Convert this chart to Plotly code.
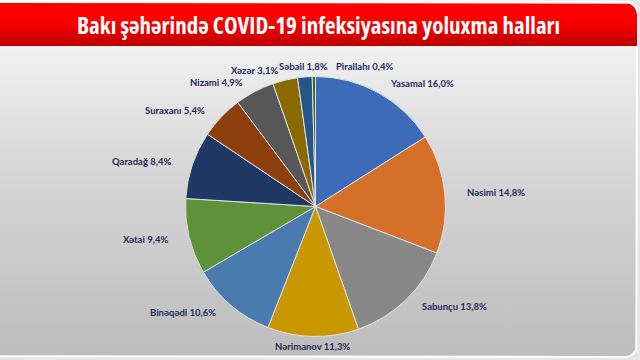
import numpy as np
import plotly.graph_objects as go

# ---- data ----
districts = ["Yasamal", "Nəsimi", "Sabunçu", "Nərimanov", "Binəqədi", "Xətai",
             "Qaradağ", "Suraxanı", "Nizami", "Xəzər", "Səbail", "Pirallahı"]
shares = [16.0, 14.8, 13.8, 11.3, 10.6, 9.4, 8.4, 5.4, 4.9, 3.1, 1.8, 0.4]
slice_colors = ["#3E6BB8", "#D5702B", "#888888", "#C99700", "#4A7BAE", "#5D913A",
                "#1F3864", "#8E3F0E", "#575757", "#8A6A00", "#235789", "#3E6128"]
title_text = "Bakı şəhərində COVID-19 infeksiyasına yoluxma halları"

share_text = [f"{v:.1f}%".replace(".", ",") for v in shares]

W, H = 640, 360
# pie geometry (pixels)
PCX, PCY, PR = 315.5, 206.5, 130
LABEL_DX, LABEL_DY = 20, 10          # label distance beyond the rim
label_overrides = {"Pirallahı": ("left", 20)}   # anchor / x-shift tweaks
label_font = dict(family="Lato, Open Sans, sans-serif", size=9.5,
                  color="#1F2A5C", weight="bold")


def rounded_path(x0, x1, y0, y1, r, round_bottom=True):
    pts = []
    def arc(cx, cy, a0, a1):
        for a in np.linspace(a0, a1, 10):
            pts.append((cx + r * np.cos(a), cy + r * np.sin(a)))
    arc(x0 + r, y0 + r, np.pi, 1.5 * np.pi)
    arc(x1 - r, y0 + r, 1.5 * np.pi, 2 * np.pi)
    if round_bottom:
        arc(x1 - r, y1 - r, 0, 0.5 * np.pi)
        arc(x0 + r, y1 - r, 0.5 * np.pi, np.pi)
    else:
        pts.append((x1, y1))
        pts.append((x0, y1))
    pts.append(pts[0])
    return [p[0] for p in pts], [H - p[1] for p in pts]


fig = go.Figure()

# card background with vertical gradient
cx, cy = rounded_path(-14, 637, 1, 357, 12, True)
fig.add_trace(go.Scatter(
    x=cx, y=cy, mode="lines", fill="toself",
    line=dict(color="#ffffff", width=2),
    fillgradient=dict(type="vertical",
                      colorscale=[[0, "#bdbdbd"], [0.6, "#d6d6d6"], [1, "#f1f1f1"]],
                      start=H - 357, stop=H - 46),
    hoverinfo="skip", showlegend=False))

# red title banner
bx, by = rounded_path(-14, 637, 3, 46, 12, False)
fig.add_trace(go.Scatter(
    x=bx, y=by, mode="lines", fill="toself",
    line=dict(color="rgba(0,0,0,0)", width=0),
    fillgradient=dict(type="vertical",
                      colorscale=[[0, "#bb0000"], [0.45, "#f00000"], [0.65, "#ff0000"], [1, "#ff0000"]],
                      start=H - 46, stop=H - 3),
    hoverinfo="skip", showlegend=False))

# pie
fig.add_trace(go.Pie(
    labels=districts, values=shares,
    textinfo="none", textposition="none",
    sort=False, direction="clockwise", rotation=0,
    marker=dict(colors=slice_colors, line=dict(color="#e2e2e2", width=1)),
    domain=dict(x=[(PCX - PR) / W, (PCX + PR) / W],
                y=[1 - (PCY + PR) / H, 1 - (PCY - PR) / H]),
    hoverinfo="skip", showlegend=False))

# data labels placed just outside each slice's mid-angle
total = sum(shares)
start = 0.0
for name, v, t in zip(districts, shares, share_text):
    mid = (start + v / 2) / total * 2 * np.pi
    start += v
    deg = np.degrees(mid)
    px = PCX + (PR + LABEL_DX) * np.sin(mid)
    py = PCY - (PR + LABEL_DY) * np.cos(mid)
    if 10 < deg < 170:
        anchor = "left"
    elif 190 < deg < 350:
        anchor = "right"
    else:
        anchor = "center"
    shift = 0
    if name in label_overrides:
        anchor, shift = label_overrides[name]
    fig.add_annotation(x=px / W, y=1 - py / H, xref="paper", yref="paper",
                       text=f"{name} {t}", showarrow=False,
                       xanchor=anchor, yanchor="middle", xshift=shift,
                       font=label_font)

fig.add_annotation(
    x=318 / W, y=1 - 25 / H, xref="paper", yref="paper",
    text=f"<span style='font-stretch:75%'>{title_text}</span>",
    showarrow=False, xanchor="center", yanchor="middle",
    font=dict(family="Open Sans, Roboto Condensed, sans-serif",
              size=23, color="#ffffff", weight="bold"))

fig.update_layout(
    width=W, height=H, margin=dict(l=0, r=0, t=0, b=0),
    paper_bgcolor="#e6e6e6", plot_bgcolor="rgba(0,0,0,0)",
    xaxis=dict(range=[0, W], visible=False, fixedrange=True),
    yaxis=dict(range=[0, H], visible=False, fixedrange=True),
    showlegend=False)

fig.write_html("out.html", config={"displayModeBar": False},
               post_script="document.body.style.margin='0px';document.body.style.overflow='hidden';")
